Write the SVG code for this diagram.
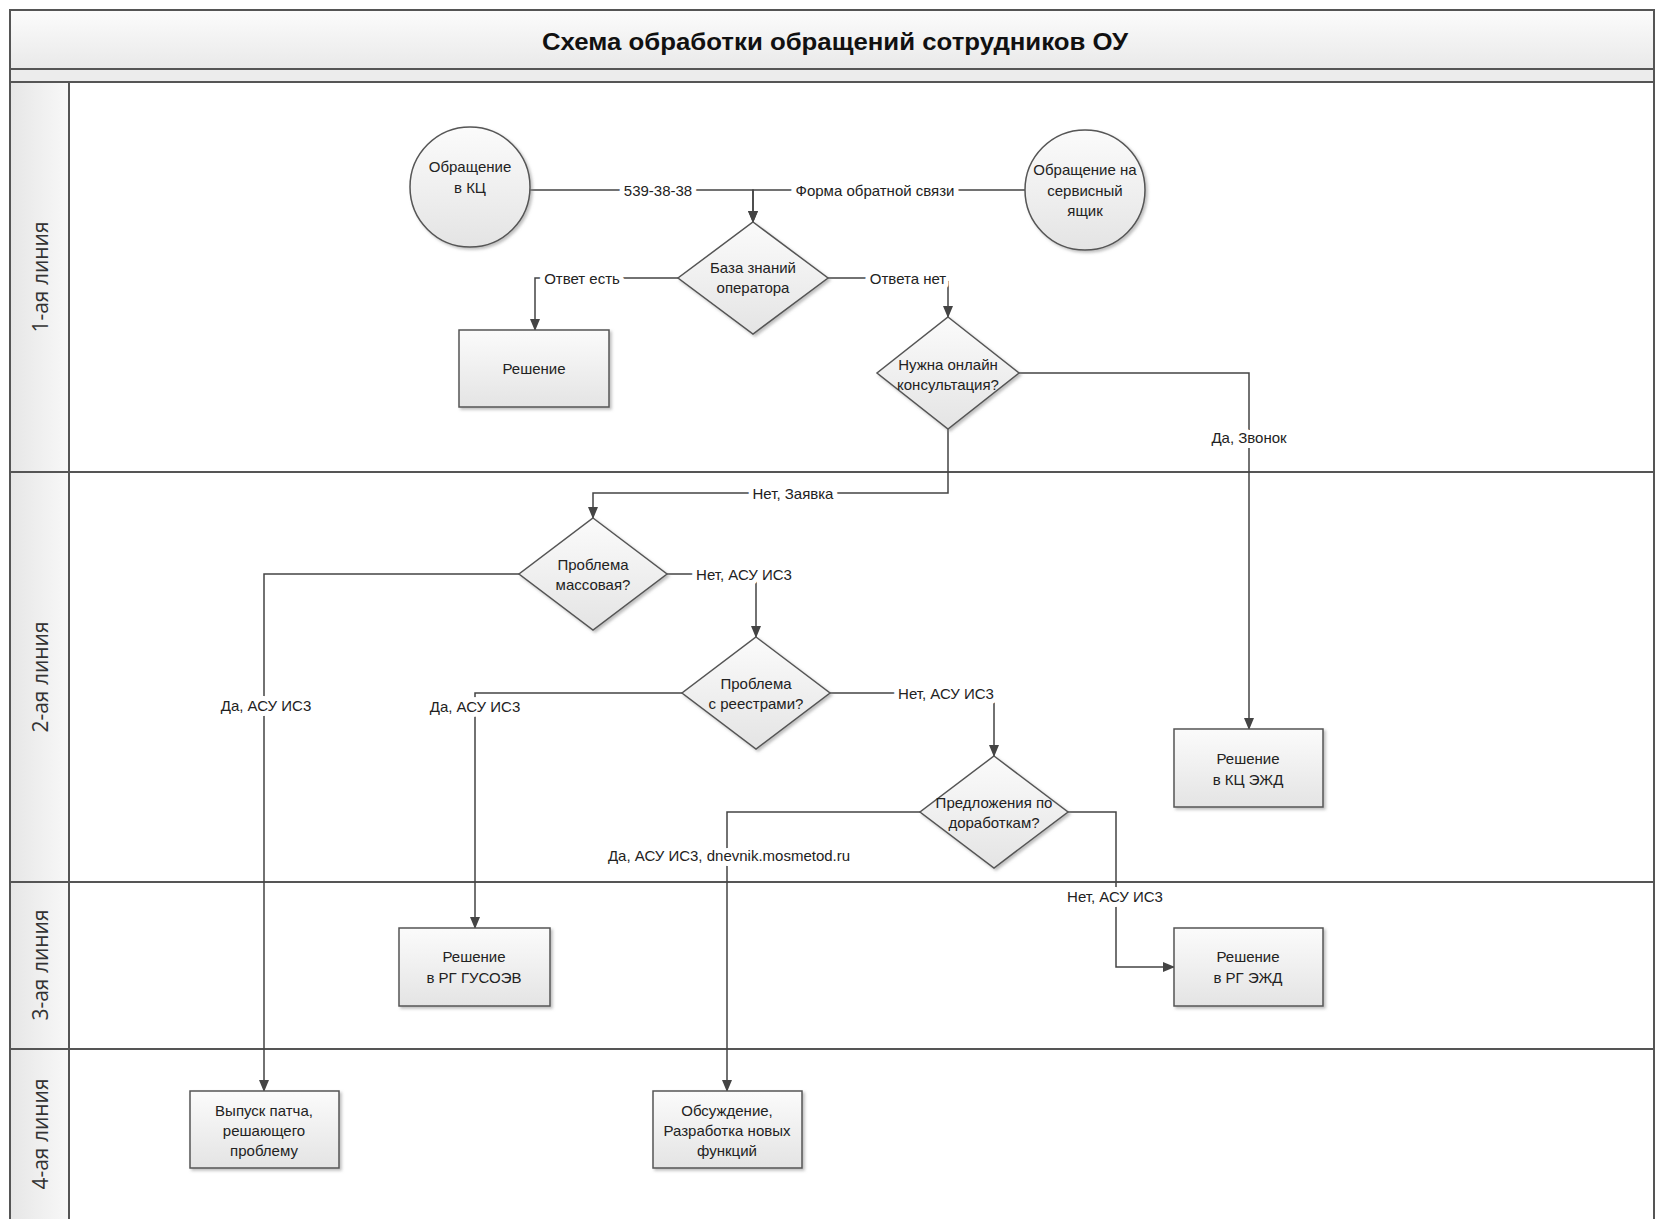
<svg xmlns="http://www.w3.org/2000/svg" width="1657" height="1219" viewBox="0 0 1657 1219">
<defs>
<linearGradient id="gNode" x1="0" y1="0" x2="0" y2="1">
<stop offset="0" stop-color="#fbfbfb"/>
<stop offset="1" stop-color="#e4e4e4"/>
</linearGradient>
<linearGradient id="gTitle" x1="0" y1="0" x2="0" y2="1">
<stop offset="0" stop-color="#fcfcfc"/>
<stop offset="1" stop-color="#e9e9e9"/>
</linearGradient>
<linearGradient id="gHead" x1="0" y1="0" x2="1" y2="0">
<stop offset="0" stop-color="#e6e6e6"/>
<stop offset="1" stop-color="#f8f8f8"/>
</linearGradient>
<filter id="sh" x="-10%" y="-10%" width="130%" height="130%">
<feDropShadow dx="2" dy="2" stdDeviation="1.5" flood-color="#888" flood-opacity="0.55"/>
</filter>
<marker id="arr" markerWidth="12" markerHeight="10" refX="11" refY="5" orient="auto" markerUnits="userSpaceOnUse">
<path d="M0,0 L12,5 L0,10 Z" fill="#444"/>
</marker>
<style>
.frame{fill:none;stroke:#555;stroke-width:2}
.lane{stroke:#555;stroke-width:2}
.node{fill:url(#gNode);stroke:#555;stroke-width:1.5;filter:url(#sh)}
.conn{fill:none;stroke:#444;stroke-width:1.5;marker-end:url(#arr)}
.t{font-family:"Liberation Sans",Arial,sans-serif;font-size:15px;fill:#222;text-anchor:middle;dominant-baseline:central}
.lbl{font-family:"Liberation Sans",Arial,sans-serif;font-size:15px;fill:#222;text-anchor:middle;dominant-baseline:central;stroke:#fff;stroke-width:10;stroke-linejoin:round;paint-order:stroke}
.title{font-family:"Liberation Sans",Arial,sans-serif;font-size:24px;font-weight:bold;fill:#111;text-anchor:middle;dominant-baseline:central}
.lt{font-family:"Open Sans","Noto Sans",sans-serif;font-size:21px;fill:#333;text-anchor:middle;dominant-baseline:central}
</style>
</defs>
<rect width="1657" height="1219" fill="#fff"/>
<g id="pool">
<rect x="10" y="10" width="1644" height="59" fill="url(#gTitle)"/>
<rect x="10" y="69" width="1644" height="13" fill="#ececec"/>
<rect x="10" y="82" width="59" height="1150" fill="url(#gHead)"/>
<rect x="10" y="10" width="1644" height="1230" class="frame"/>
<line x1="10" y1="69" x2="1654" y2="69" class="lane"/>
<line x1="10" y1="82" x2="1654" y2="82" class="lane"/>
<line x1="69" y1="82" x2="69" y2="1230" class="lane"/>
<line x1="10" y1="472" x2="1654" y2="472" class="lane"/>
<line x1="10" y1="882" x2="1654" y2="882" class="lane"/>
<line x1="10" y1="1049" x2="1654" y2="1049" class="lane"/>
<text class="title" x="835" y="41" textLength="586" lengthAdjust="spacingAndGlyphs">Схема обработки обращений сотрудников ОУ</text>
<text class="lt" transform="translate(40,277) rotate(-90)">1-ая линия</text>
<text class="lt" transform="translate(40,677) rotate(-90)">2-ая линия</text>
<text class="lt" transform="translate(40,965) rotate(-90)">3-ая линия</text>
<text class="lt" transform="translate(40,1134) rotate(-90)">4-ая линия</text>
</g>
<g id="connectors">
<path class="conn" d="M530,190 H753 V222"/>
<path class="conn" d="M1025,190 H753 V222"/>
<path class="conn" d="M678,278 H535 V330"/>
<path class="conn" d="M828,278 H948 V317"/>
<path class="conn" d="M1019,373 H1249 V729"/>
<path class="conn" d="M948,429 V493 H593 V518"/>
<path class="conn" d="M519,574 H264 V1091"/>
<path class="conn" d="M667,574 H756 V637"/>
<path class="conn" d="M682,693 H475 V928"/>
<path class="conn" d="M830,693 H994 V756"/>
<path class="conn" d="M920,812 H727 V1091"/>
<path class="conn" d="M1068,812 H1116 V967 H1174"/>
<text class="lbl" x="658" y="190">539-38-38</text>
<text class="lbl" x="875" y="190">Форма обратной связи</text>
<text class="lbl" x="582" y="278">Ответ есть</text>
<text class="lbl" x="908" y="278">Ответа нет</text>
<text class="lbl" x="1249" y="437">Да, Звонок</text>
<text class="lbl" x="793" y="493">Нет, Заявка</text>
<text class="lbl" x="744" y="574">Нет, АСУ ИС3</text>
<text class="lbl" x="266" y="705">Да, АСУ ИС3</text>
<text class="lbl" x="475" y="706">Да, АСУ ИС3</text>
<text class="lbl" x="946" y="693">Нет, АСУ ИС3</text>
<text class="lbl" x="729" y="855">Да, АСУ ИС3, dnevnik.mosmetod.ru</text>
<text class="lbl" x="1115" y="896">Нет, АСУ ИС3</text>
</g>
<g id="n-kc">
<circle class="node" cx="470" cy="187" r="60"/>
<text class="t" x="470" y="166">Обращение</text>
<text class="t" x="470" y="187">в КЦ</text>
</g>
<g id="n-mail">
<circle class="node" cx="1085" cy="190" r="60"/>
<text class="t" x="1085" y="169">Обращение на</text>
<text class="t" x="1085" y="190">сервисный</text>
<text class="t" x="1085" y="210">ящик</text>
</g>
<g id="d-kb">
<polygon class="node" points="753,222 828,278 753,334 678,278"/>
<text class="t" x="753" y="267">База знаний</text>
<text class="t" x="753" y="287">оператора</text>
</g>
<g id="n-res">
<rect class="node" x="459" y="330" width="150" height="77"/>
<text class="t" x="534" y="368">Решение</text>
</g>
<g id="d-online">
<polygon class="node" points="948,317 1019,373 948,429 877,373"/>
<text class="t" x="948" y="364">Нужна онлайн</text>
<text class="t" x="948" y="384">консультация?</text>
</g>
<g id="n-kc-ezhd">
<rect class="node" x="1174" y="729" width="149" height="78"/>
<text class="t" x="1248" y="758">Решение</text>
<text class="t" x="1248" y="779">в КЦ ЭЖД</text>
</g>
<g id="d-mass">
<polygon class="node" points="593,518 667,574 593,630 519,574"/>
<text class="t" x="593" y="564">Проблема</text>
<text class="t" x="593" y="584">массовая?</text>
</g>
<g id="d-reg">
<polygon class="node" points="756,637 830,693 756,749 682,693"/>
<text class="t" x="756" y="683">Проблема</text>
<text class="t" x="756" y="703">с реестрами?</text>
</g>
<g id="d-prop">
<polygon class="node" points="994,756 1068,812 994,868 920,812"/>
<text class="t" x="994" y="802">Предложения по</text>
<text class="t" x="994" y="822">доработкам?</text>
</g>
<g id="n-rg-gusoev">
<rect class="node" x="399" y="928" width="151" height="78"/>
<text class="t" x="474" y="956">Решение</text>
<text class="t" x="474" y="977">в РГ ГУСОЭВ</text>
</g>
<g id="n-rg-ezhd">
<rect class="node" x="1174" y="928" width="149" height="78"/>
<text class="t" x="1248" y="956">Решение</text>
<text class="t" x="1248" y="977">в РГ ЭЖД</text>
</g>
<g id="n-patch">
<rect class="node" x="190" y="1091" width="149" height="77"/>
<text class="t" x="264" y="1110">Выпуск патча,</text>
<text class="t" x="264" y="1130">решающего</text>
<text class="t" x="264" y="1150">проблему</text>
</g>
<g id="n-discuss">
<rect class="node" x="653" y="1091" width="149" height="77"/>
<text class="t" x="727" y="1110">Обсуждение,</text>
<text class="t" x="727" y="1130">Разработка новых</text>
<text class="t" x="727" y="1150">функций</text>
</g>
</svg>
